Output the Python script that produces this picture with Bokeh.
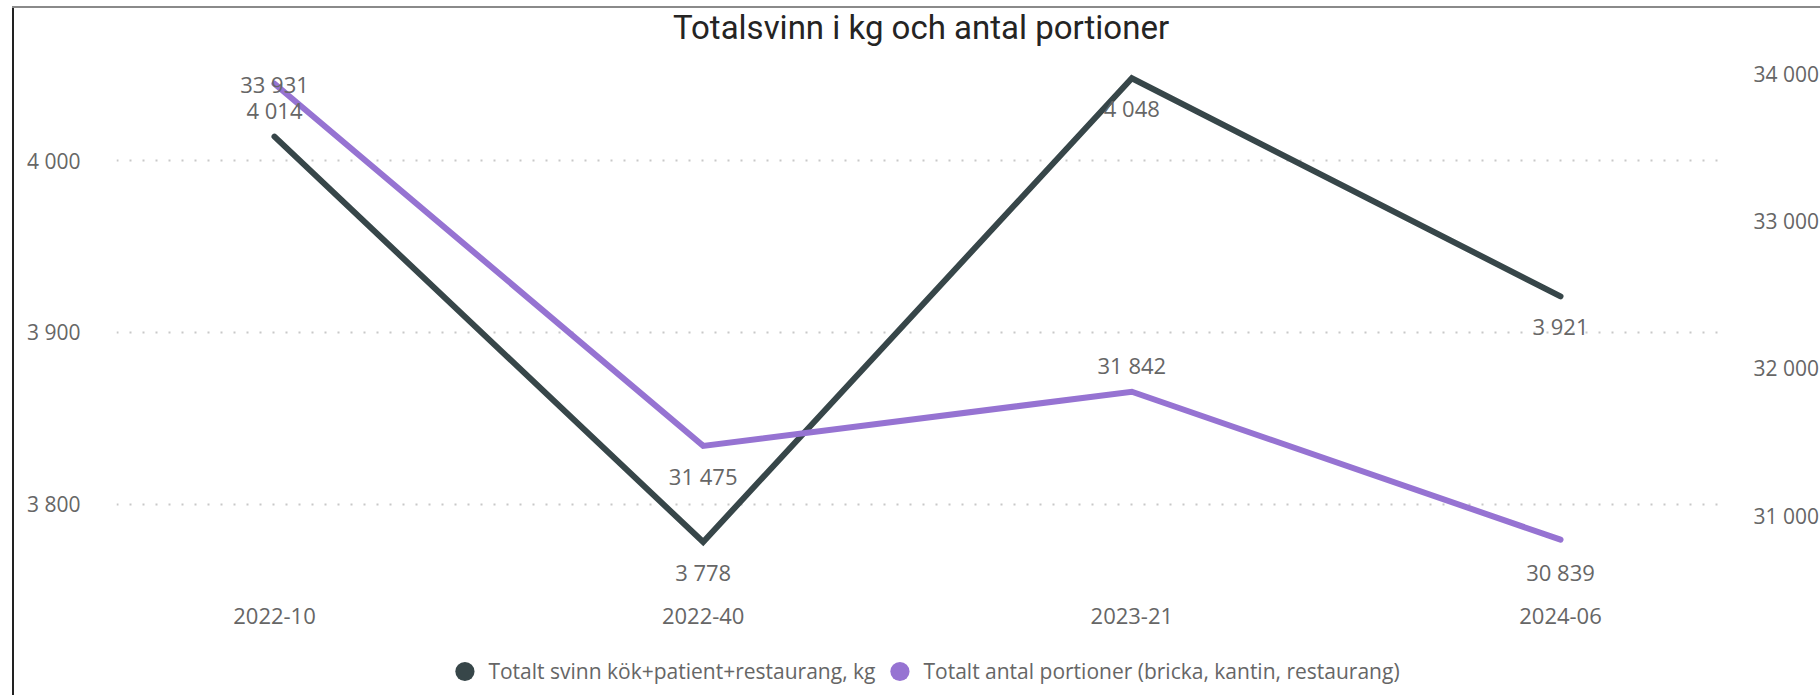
from bokeh.plotting import figure
from bokeh.layouts import column
from bokeh.models import (Range1d, LinearAxis, FixedTicker, ColumnDataSource,
                          Legend, LegendItem)
from bokeh.core.properties import value
from bokeh.embed import file_html
from bokeh.resources import INLINE

# ---------------- data ----------------
categories = ["2022-10", "2022-40", "2023-21", "2024-06"]
kg_values = [4014, 3778, 4048, 3921]
portion_values = [33931, 31475, 31842, 30839]
left_ticks = [3800, 3900, 4000]
right_ticks = [31000, 32000, 33000, 34000]
series_names = ["Totalt svinn kök+patient+restaurang, kg",
                "Totalt antal portioner (bricka, kantin, restaurang)"]
title_text = "Totalsvinn i kg och antal portioner"

# ---------------- styles ----------------
KG_COLOR = "#374649"
PORT_COLOR = "#9673d2"
LABEL_COLOR = "#666666"
FONT = "Open Sans"
kg_label_offsets = [-27, 30, 30, 30]      # px, + is down
port_label_offsets = [0, 30, -27, 32]


def fmt(v):
    return f"{v:,}".replace(",", " ")


xs = list(range(len(categories)))

# ---------------- main chart ----------------
p = figure(width=1820, height=640, frame_width=1609, frame_height=540,
           output_backend="svg", toolbar_location=None,
           x_range=Range1d(-0.36858, 3.38489), y_range=Range1d(3746.84, 4061.25),
           min_border_left=116, min_border_right=95, min_border_top=55,
           min_border_bottom=45, title=title_text)
p.extra_y_ranges = {"right": Range1d(30460.3, 34122.06)}
p.outline_line_color = None
p.background_fill_color = "white"
p.border_fill_alpha = 0

p.title.align = "center"
p.title.vertical_align = "top"
p.title.text_font = "Roboto"
p.title.text_font_size = "33px"
p.title.text_font_style = "normal"
p.title.text_color = "#252423"
p.title.standoff = 14


def style_axis(ax, size, standoff):
    ax.axis_line_color = None
    ax.major_tick_line_color = None
    ax.minor_tick_line_color = None
    ax.major_label_text_font = FONT
    ax.major_label_text_font_size = size
    ax.major_label_text_color = LABEL_COLOR
    ax.major_label_standoff = standoff


# x axis
p.xaxis.ticker = FixedTicker(ticks=xs)
p.xaxis.major_label_overrides = {i: c for i, c in zip(xs, categories)}
style_axis(p.xaxis[0], "22px", 6)

# left axis
p.yaxis.ticker = FixedTicker(ticks=left_ticks)
p.yaxis.major_label_overrides = {t: fmt(t) for t in left_ticks}
style_axis(p.yaxis[0], "21px", 30)

# right axis
rax = LinearAxis(y_range_name="right", ticker=FixedTicker(ticks=right_ticks),
                 major_label_overrides={t: fmt(t) for t in right_ticks})
style_axis(rax, "21px", 22)
p.add_layout(rax, "right")

# grid
p.xgrid.visible = False
p.ygrid.ticker = FixedTicker(ticks=left_ticks)
p.ygrid.grid_line_color = "#c8c8c8"
p.ygrid.grid_line_width = 2
p.ygrid.grid_line_dash = "2 11"

# lines
kg_src = ColumnDataSource(dict(x=xs, y=kg_values,
                               lab=[fmt(v) for v in kg_values],
                               off=kg_label_offsets))
pt_src = ColumnDataSource(dict(x=xs, y=portion_values,
                               lab=[fmt(v) for v in portion_values],
                               off=port_label_offsets))

p.line("x", "y", source=kg_src, line_color=KG_COLOR, line_width=6,
       line_cap="round", line_join="miter")
p.line("x", "y", source=pt_src, line_color=PORT_COLOR, line_width=6,
       line_cap="round", line_join="miter", y_range_name="right")

# data labels
for src, rng in ((kg_src, "default"), (pt_src, "right")):
    p.text("x", "y", text="lab", source=src, y_offset="off",
           text_align="center", text_baseline="middle",
           text_font=value(FONT), text_font_size="22px",
           text_color=LABEL_COLOR, y_range_name=rng)

# ---------------- legend strip ----------------
lf = figure(width=1820, height=55, output_backend="svg", toolbar_location=None,
            x_range=Range1d(0, 1), y_range=Range1d(0, 1),
            min_border_left=20, min_border_right=0, min_border_top=7,
            min_border_bottom=0)
lf.axis.visible = False
lf.grid.visible = False
lf.outline_line_color = None
lf.background_fill_alpha = 0
lf.border_fill_alpha = 0

kg_dot = lf.scatter("x", "y", source=kg_src, size=0, marker="circle",
                    fill_color=KG_COLOR, line_color=None)
pt_dot = lf.scatter("x", "y", source=pt_src, size=0, marker="circle",
                    fill_color=PORT_COLOR, line_color=None)
legend = Legend(items=[LegendItem(label=series_names[0], renderers=[kg_dot]),
                       LegendItem(label=series_names[1], renderers=[pt_dot])],
                orientation="horizontal", location="center",
                glyph_width=48, glyph_height=48, label_standoff=-20, spacing=0,
                padding=0, margin=0, border_line_color=None,
                background_fill_alpha=0,
                label_text_font=FONT, label_text_font_size="21px",
                label_text_color=LABEL_COLOR)
lf.add_layout(legend, "center")

# report-tile border (left and top edges), painted behind the transparent canvases
layout = column(p, lf, spacing=0, styles={
    "background": ("linear-gradient(#8a8a8a, #8a8a8a) 12px 6px / 1808px 2px no-repeat, "
                   "linear-gradient(#222222, #222222) 12px 6px / 2px 689px no-repeat, "
                   "#ffffff"),
})

open("out.html", "w").write(file_html(layout, INLINE))
